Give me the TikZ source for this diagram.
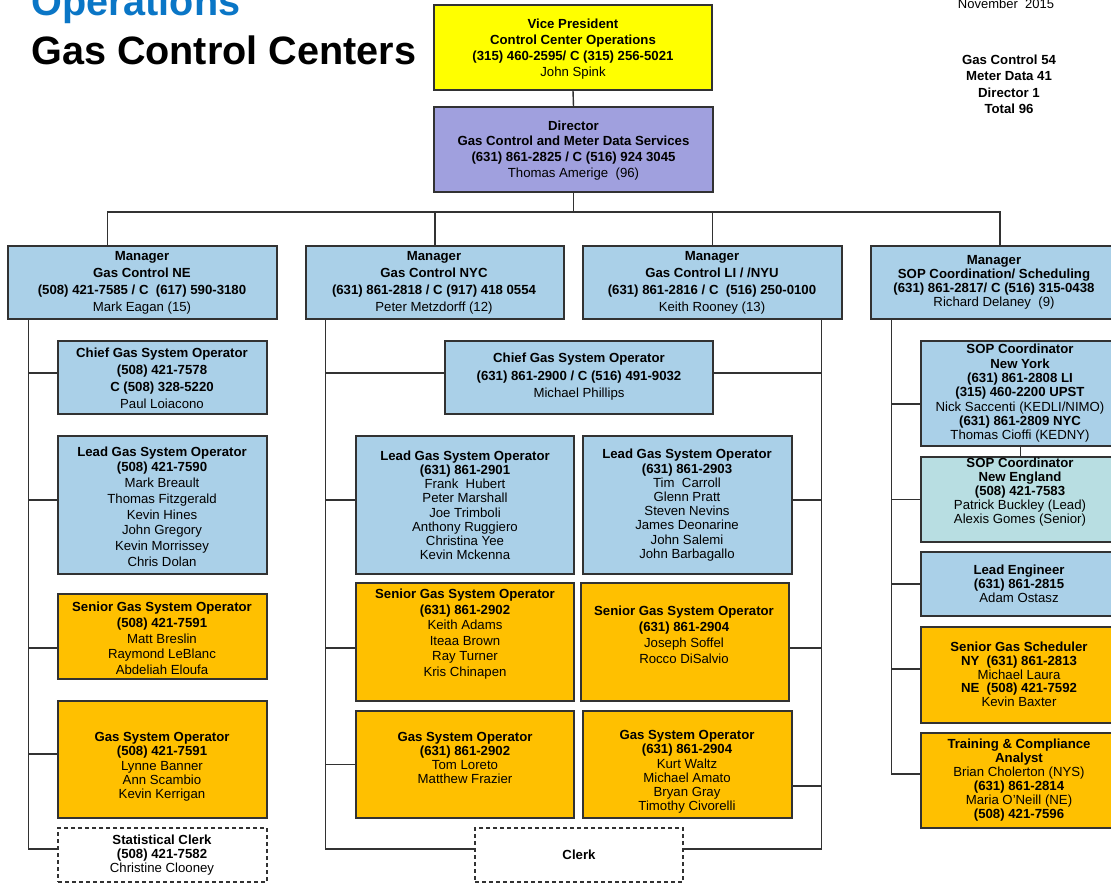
\documentclass[tikz,border=0pt]{standalone}
\usepackage{fontspec}
\setmainfont{Liberation Sans}
\usetikzlibrary{fit}
\definecolor{cblue}{RGB}{170,208,232}
\definecolor{corange}{RGB}{255,192,0}
\definecolor{cyellow}{RGB}{255,255,0}
\definecolor{clav}{RGB}{160,160,222}
\definecolor{cteal}{RGB}{184,222,226}
\definecolor{cline}{RGB}{50,50,50}
\definecolor{ctitle}{RGB}{10,118,198}
\tikzset{
  box/.style={rectangle, draw=cline, line width=1.3pt, inner sep=0pt},
  fblue/.style={fill=cblue},
  forange/.style={fill=corange},
  fyellow/.style={fill=cyellow},
  flav/.style={fill=clav},
  fteal/.style={fill=cteal},
  fclerk/.style={fill=white, dash pattern=on 4pt off 3pt},
  txt/.style={inner sep=0pt, align=center, text=black},
  ls/.style={font=\fontsize{13.2}{#1}\selectfont},
  conn/.style={draw=cline, line width=1.4pt},
}
\newcommand\obox[7]{%
  \node[box,#1,fit={#3 #4}] (#2) {};
  \node[txt,#5] (#2-t) at #6 {#7};}
\begin{document}
\begin{tikzpicture}[x=1pt,y=-1pt]
\useasboundingbox (0,0) rectangle (1111,884);
\clip (0,0) rectangle (1111,884);
\fill[white] (0,0) rectangle (1111,884);

% titles
\node[inner sep=0pt, anchor=base west, text=ctitle, font=\fontsize{39.6}{44}\selectfont\bfseries] (ttl1) at (31,15) {Operations};
\node[inner sep=0pt, anchor=base west, text=black, font=\fontsize{39.6}{44}\selectfont\bfseries] (ttl2) at (31,64) {Gas Control Centers};
\node[inner sep=0pt, anchor=base, font=\fontsize{13}{15}\selectfont] (date) at (1006,8) {November~ 2015};
\node[txt, ls=16.6] (tot) at (1009,84.2) {\textbf{Gas Control 54}\\\textbf{Meter Data 41}\\\textbf{Director 1}\\\textbf{Total 96}};

% top
\obox{fyellow}{vp}{(434,5)}{(712,90)}{ls=15.9}{(573,48.8)}{\textbf{Vice President}\\\textbf{Control Center Operations}\\\textbf{(315) 460-2595/ C (315) 256-5021}\\John Spink}
\obox{flav}{dir}{(434,107)}{(713,192)}{ls=15.8}{(573.5,150.3)}{\textbf{Director}\\\textbf{Gas Control and Meter Data Services}\\\textbf{(631) 861-2825 / C (516) 924 3045}\\Thomas Amerige~ (96)}

% managers
\obox{fblue}{mne}{(8,246)}{(277,319)}{ls=17}{(142,283)}{\textbf{Manager}\\\textbf{Gas Control NE}\\\textbf{(508) 421-7585 / C~ (617) 590-3180}\\Mark Eagan (15)}
\obox{fblue}{mnyc}{(306,246)}{(564,319)}{ls=17}{(434,283)}{\textbf{Manager}\\\textbf{Gas Control NYC}\\\textbf{(631) 861-2818 / C (917) 418 0554}\\Peter Metzdorff (12)}
\obox{fblue}{mli}{(583,246)}{(842,319)}{ls=17}{(712,283)}{\textbf{Manager}\\\textbf{Gas Control LI / /NYU}\\\textbf{(631) 861-2816 / C~ (516) 250-0100}\\Keith Rooney (13)}
\obox{fblue}{msop}{(871,246)}{(1117,319)}{ls=14}{(994,282)}{\textbf{Manager}\\\textbf{SOP Coordination/ Scheduling}\\\textbf{(631) 861-2817/ C (516) 315-0438}\\Richard Delaney~ (9)}

% NE column
\obox{fblue}{cgl}{(58,341)}{(267,414)}{ls=16.9}{(162,378.5)}{\textbf{Chief Gas System Operator}\\\textbf{(508) 421-7578}\\\textbf{C (508) 328-5220}\\Paul Loiacono}
\obox{fblue}{lgl}{(58,436)}{(267,574)}{ls=15.7}{(162,506.5)}{\textbf{Lead Gas System Operator}\\\textbf{(508) 421-7590}\\Mark Breault\\Thomas Fitzgerald\\Kevin Hines\\John Gregory\\Kevin Morrissey\\Chris Dolan}
\obox{forange}{sgl}{(58,594)}{(267,679)}{ls=15.65}{(162,638.5)}{\textbf{Senior Gas System Operator}\\\textbf{(508) 421-7591}\\Matt Breslin\\Raymond LeBlanc\\Abdeliah Eloufa}
\obox{forange}{ggl}{(58,701)}{(267,818)}{ls=14.3}{(162,766.8)}{\textbf{Gas System Operator}\\\textbf{(508) 421-7591}\\Lynne Banner\\Ann Scambio\\Kevin Kerrigan}
\obox{fclerk}{scl}{(58,828)}{(267,882)}{ls=13.7}{(162,855.2)}{\textbf{Statistical Clerk}\\\textbf{(508) 421-7582}\\Christine Clooney}

% NYC / LI columns
\obox{fblue}{cgm}{(445,341)}{(713,414)}{ls=17.5}{(579,377)}{\textbf{Chief Gas System Operator}\\\textbf{(631) 861-2900 / C (516) 491-9032}\\Michael Phillips}
\obox{fblue}{la}{(356,436)}{(574,574)}{ls=14.2}{(465,505.2)}{\textbf{Lead Gas System Operator}\\\textbf{(631) 861-2901}\\Frank~ Hubert\\Peter Marshall\\Joe Trimboli\\Anthony Ruggiero\\Christina Yee\\Kevin Mckenna}
\obox{fblue}{lb}{(583,436)}{(792,574)}{ls=14.2}{(687,505.2)}{\textbf{Lead Gas System Operator}\\\textbf{(631) 861-2903}\\Tim~ Carroll\\Glenn Pratt\\Steven Nevins\\James Deonarine\\John Salemi\\John Barbagallo}
\obox{forange}{sa}{(356,583)}{(574,701)}{ls=15.5}{(465,634.2)}{\textbf{Senior Gas System Operator}\\\textbf{(631) 861-2902}\\Keith Adams\\Iteaa Brown\\Ray Turner\\Kris Chinapen}
\obox{forange}{sb}{(581,583)}{(789,701)}{ls=15.9}{(684,635)}{\textbf{Senior Gas System Operator}\\\textbf{(631) 861-2904}\\Joseph Soffel\\Rocco DiSalvio}
\obox{forange}{ga}{(356,711)}{(574,818)}{ls=14.1}{(465,757.7)}{\textbf{Gas System Operator}\\\textbf{(631) 861-2902}\\Tom Loreto\\Matthew Frazier}
\obox{forange}{gb}{(583,711)}{(792,818)}{ls=14.1}{(687,771.8)}{\textbf{Gas System Operator}\\\textbf{(631) 861-2904}\\Kurt Waltz\\Michael Amato\\Bryan Gray\\Timothy Civorelli}
\obox{fclerk}{clk}{(475,828)}{(683,882)}{ls=14}{(579,854.3)}{\textbf{Clerk}}

% SOP column
\obox{fblue}{sny}{(921,341)}{(1120,446)}{ls=14.33}{(1020,393.5)}{\textbf{SOP Coordinator}\\\textbf{New York}\\\textbf{(631) 861-2808 LI}\\\textbf{(315) 460-2200 UPST}\\Nick Saccenti (KEDLI/NIMO)\\\textbf{(631) 861-2809 NYC}\\Thomas Cioffi (KEDNY)}
\obox{fteal}{sne}{(921,457)}{(1120,542)}{ls=14}{(1020,492.5)}{\textbf{SOP Coordinator}\\\textbf{New England}\\\textbf{(508) 421-7583}\\Patrick Buckley (Lead)\\Alexis Gomes (Senior)}
\obox{fblue}{eng}{(921,552)}{(1120,616)}{ls=14.2}{(1019,584)}{\textbf{Lead Engineer}\\\textbf{(631) 861-2815}\\Adam Ostasz}
\obox{forange}{sch}{(921,627)}{(1120,723)}{ls=13.9}{(1019,674.3)}{\textbf{Senior Gas Scheduler}\\\textbf{NY~ (631) 861-2813}\\Michael Laura\\\textbf{NE~ (508) 421-7592}\\Kevin Baxter}
\obox{forange}{trn}{(921,733)}{(1120,828)}{ls=14}{(1019,780.5)}{\textbf{Training \& Compliance}\\\textbf{Analyst}\\Brian Cholerton (NYS)\\\textbf{(631) 861-2814}\\Maria O'Neill (NE)\\\textbf{(508) 421-7596}}

% connectors: top
\coordinate (bus) at (573.5,212);
\draw[conn] (vp.south) -- (dir.north);
\draw[conn] (dir.south) -- (bus);
\draw[conn] ([xshift=-35pt]mne.north) |- (bus) -| ([xshift=6pt]msop.north);
\draw[conn] (mnyc.north) -- (mnyc.north |- bus);
\draw[conn] (mli.north) -- (mli.north |- bus);

% NE spine
\coordinate (spne) at ([xshift=21pt]mne.south west);
\draw[conn] ([yshift=4.5pt]cgl.west) -| (spne);
\draw[conn] ([yshift=5pt]lgl.west) -| (spne);
\draw[conn] ([yshift=-11.5pt]sgl.west) -| (spne);
\draw[conn] ([yshift=5.5pt]ggl.west) -| (spne);
\draw[conn] ([yshift=6pt]scl.west) -| (spne);

% NYC spine
\coordinate (spnyc) at ([xshift=20pt]mnyc.south west);
\draw[conn] ([yshift=4.5pt]cgm.west) -| (spnyc);
\draw[conn] ([yshift=5pt]la.west) -| (spnyc);
\draw[conn] ([yshift=-6pt]sa.west) -| (spnyc);
\draw[conn] (ga.west) -| (spnyc);
\draw[conn] ([yshift=6pt]clk.west) -| (spnyc);

% LI spine
\coordinate (spli) at ([xshift=-21pt]mli.south east);
\draw[conn] ([yshift=4.5pt]cgm.east) -| (spli);
\draw[conn] ([yshift=5pt]lb.east) -| (spli);
\draw[conn] ([yshift=-6pt]sb.east) -| (spli);
\draw[conn] ([yshift=-21.5pt]gb.east) -| (spli);
\draw[conn] ([yshift=6pt]clk.east) -| (spli);

% SOP spine
\coordinate (spsop) at ([xshift=21pt]msop.south west);
\draw[conn] ([yshift=-10.5pt]sny.west) -| (spsop);
\draw[conn] (sne.west) -| (spsop);
\draw[conn] (eng.west) -| (spsop);
\draw[conn] ([yshift=6pt]sch.west) -| (spsop);
\draw[conn] ([yshift=6.5pt]trn.west) -| (spsop);
\draw[conn] (sny.south) -- (sne.north);
\end{tikzpicture}
\end{document}
